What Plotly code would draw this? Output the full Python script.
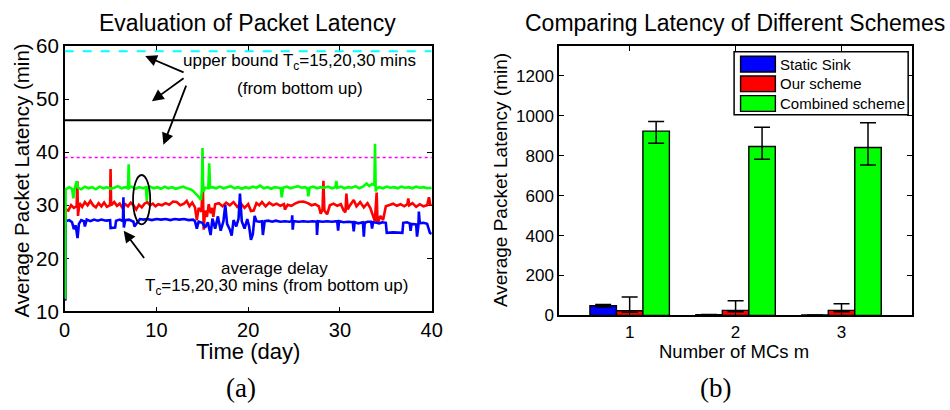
import plotly.graph_objects as go

# ---------------- (a) packet latency over time ----------------
# average delay traces, (day, minutes)
green_trace = [
    (0.00, 12.6), (0.06, 12.6), (0.10, 33.0), (0.5, 33.4), (0.8, 33.1), (0.95, 31.3), (1.1, 33.2), (1.3, 34.5), (1.45, 33.3),
    (1.8, 33.0), (2.2, 33.5), (2.6, 33.2), (3.0, 33.4), (3.4, 33.0), (3.8, 33.5), (4.2, 33.2), (4.6, 33.4), (5.0, 33.1),
    (5.4, 33.3), (5.8, 33.6), (6.2, 33.2), (6.6, 33.4), (6.9, 33.2), (6.97, 37.7), (7.05, 33.3), (7.3, 33.5), (7.7, 33.1),
    (8.1, 33.4), (8.5, 33.2), (8.85, 33.4), (8.95, 30.8), (9.05, 33.3), (9.3, 33.5), (9.7, 33.2), (10.1, 33.4), (10.5, 33.1),
    (10.9, 33.5), (11.3, 33.2), (11.7, 33.4), (12.1, 33.1), (12.5, 33.3), (12.9, 33.5), (13.3, 33.2), (13.7, 33.0),
    (14.0, 32.7), (14.3, 32.2), (14.6, 31.6), (14.85, 31.0), (14.95, 33.0), (15.02, 40.8), (15.1, 32.5), (15.3, 33.3),
    (15.65, 33.2), (15.75, 37.9), (15.85, 33.3), (16.1, 33.4), (16.5, 33.2), (16.9, 33.5), (17.3, 33.2), (17.7, 33.4),
    (18.1, 33.6), (18.5, 33.2), (18.9, 33.4), (19.3, 33.1), (19.7, 33.4), (20.1, 33.2), (20.5, 33.5), (20.9, 33.3),
    (21.3, 33.7), (21.7, 33.2), (22.1, 33.4), (22.5, 33.1), (22.9, 33.4), (23.3, 33.3), (23.55, 33.2), (23.65, 31.5),
    (23.8, 33.3), (24.2, 33.5), (24.6, 33.2), (25.0, 33.4), (25.4, 33.6), (25.8, 33.3), (26.2, 33.4), (26.45, 33.2),
    (26.55, 31.7), (26.7, 33.3), (27.1, 33.5), (27.5, 33.2), (27.9, 33.4), (28.3, 33.3), (28.7, 33.5), (29.1, 33.2),
    (29.5, 33.4), (29.6, 34.6), (29.7, 33.3), (30.1, 33.5), (30.5, 33.2), (30.9, 33.4), (31.3, 33.3), (31.7, 33.6),
    (32.1, 33.2), (32.5, 33.5), (32.9, 34.1), (33.2, 33.6), (33.5, 34.0), (33.75, 33.8), (33.82, 41.6), (33.9, 32.6),
    (34.0, 33.2), (34.3, 33.4), (34.7, 33.2), (35.1, 33.5), (35.5, 33.3), (35.9, 33.4), (36.3, 33.2), (36.7, 33.5),
    (37.1, 33.3), (37.5, 33.4), (37.9, 33.2), (38.3, 33.5), (38.7, 33.3), (39.1, 33.4), (39.5, 33.2), (40.0, 33.3),
]

red_trace = [
    (0.00, 12.3), (0.06, 12.3), (0.10, 29.2), (0.4, 29.0), (0.7, 30.0), (1.0, 29.5), (1.3, 29.8), (1.38, 34.5), (1.45, 28.0),
    (1.6, 30.4), (1.9, 29.7), (2.2, 30.6), (2.5, 30.0), (2.8, 30.8), (3.1, 30.0), (3.4, 29.6), (3.7, 30.4), (4.0, 29.8),
    (4.3, 30.5), (4.6, 29.7), (4.95, 30.0), (5.0, 36.8), (5.06, 30.0), (5.4, 30.6), (5.7, 29.9), (6.0, 30.3), (6.3, 29.5),
    (6.6, 30.2), (6.9, 29.8), (7.2, 30.5), (7.5, 30.0), (7.8, 29.2), (8.1, 30.1), (8.4, 29.6), (8.7, 30.3), (9.0, 30.6),
    (9.3, 30.0), (9.6, 30.3), (9.9, 29.8), (10.2, 30.2), (10.6, 30.0), (11.0, 30.4), (11.4, 30.1), (11.8, 30.7), (12.2, 30.6),
    (12.6, 30.0), (13.0, 30.3), (13.3, 30.8), (13.6, 29.8), (13.9, 30.5), (14.2, 29.6), (14.4, 27.2), (14.6, 29.5),
    (14.9, 28.8), (15.05, 34.3), (15.15, 25.4), (15.3, 29.0), (15.5, 27.8), (15.7, 30.2), (15.9, 28.5), (16.1, 29.5),
    (16.2, 27.8), (16.4, 30.2), (16.8, 30.4), (17.2, 29.8), (17.6, 30.5), (18.0, 30.0), (18.4, 30.6), (18.8, 29.7), (19.2, 30.3),
    (19.6, 29.5), (20.0, 30.2), (20.3, 28.9), (20.6, 29.0), (20.9, 30.4), (21.2, 30.0), (21.5, 30.6), (21.9, 29.8), (22.3, 30.5),
    (22.7, 30.0), (23.1, 30.3), (23.5, 29.9), (23.9, 30.2), (24.0, 29.2), (24.3, 30.1), (24.7, 29.9), (25.1, 30.3),
    (25.5, 30.6), (26.0, 30.7), (26.5, 30.4), (26.9, 30.0), (27.3, 30.2), (27.7, 29.8), (27.9, 28.4), (28.1, 29.2),
    (28.2, 34.6), (28.3, 29.0), (28.6, 28.3), (28.9, 30.0), (29.3, 30.3), (29.7, 29.9), (30.1, 30.2), (30.4, 29.0),
    (30.6, 28.7), (30.7, 32.2), (30.85, 29.2), (31.1, 30.0), (31.5, 31.0), (31.8, 29.8), (32.2, 30.6), (32.6, 29.6),
    (33.0, 30.4), (33.3, 29.5), (33.6, 28.2), (33.8, 27.0), (34.0, 32.4), (34.1, 26.5), (34.4, 28.0), (34.7, 27.2),
    (35.0, 29.8), (35.4, 30.0), (35.8, 30.3), (36.2, 29.9), (36.6, 30.2), (37.0, 29.8), (37.35, 30.2), (37.45, 31.3),
    (37.55, 30.0), (37.9, 30.4), (38.3, 29.7), (38.7, 30.2), (39.1, 29.8), (39.5, 30.0), (39.7, 31.5), (39.85, 30.0), (40.0, 30.3),
]

blue_trace = [
    (0.00, 12.3), (0.06, 12.3), (0.10, 27.0), (0.5, 27.2), (0.8, 26.8), (1.0, 25.5), (1.2, 26.2), (1.4, 23.8), (1.55, 26.5),
    (1.8, 27.2), (2.1, 27.0), (2.2, 26.0), (2.4, 27.3), (2.8, 27.0), (3.2, 27.3), (3.6, 27.1), (4.0, 27.3), (4.5, 27.1),
    (4.95, 27.2), (5.0, 25.7), (5.5, 25.8), (5.6, 27.1), (6.0, 27.3), (6.35, 27.0), (6.4, 31.5), (6.45, 25.8), (6.6, 27.2),
    (7.0, 27.3), (7.5, 26.9), (7.6, 26.0), (7.9, 26.7), (8.2, 27.4), (8.6, 27.3), (9.0, 27.4), (9.5, 27.2), (10.0, 27.4),
    (10.5, 27.3), (11.0, 27.4), (11.5, 27.2), (12.0, 27.4), (12.5, 27.3), (13.0, 27.4), (13.5, 27.2), (14.0, 27.3),
    (14.2, 27.0), (14.4, 25.6), (14.6, 26.9), (15.0, 26.7), (15.3, 25.8), (15.6, 26.8), (15.9, 24.4), (16.1, 27.5),
    (16.4, 25.6), (16.7, 27.9), (17.0, 25.2), (17.3, 27.0), (17.5, 30.0), (17.7, 26.5), (18.0, 25.4), (18.2, 24.3),
    (18.4, 27.2), (18.7, 26.0), (18.95, 27.5), (19.1, 32.2), (19.3, 27.0), (19.6, 25.6), (19.9, 27.4), (20.1, 26.0),
    (20.3, 23.5), (20.5, 24.5), (20.7, 28.0), (20.9, 27.0), (21.2, 26.9), (21.5, 27.0), (21.6, 24.4), (21.8, 27.0),
    (22.2, 27.1), (22.6, 26.9), (23.0, 27.1), (23.5, 26.9), (24.0, 27.0), (24.5, 26.9), (24.75, 27.0), (24.8, 28.1),
    (24.85, 25.4), (24.95, 27.0), (25.5, 26.9), (26.0, 27.0), (26.5, 26.9), (27.0, 27.0), (27.45, 26.9), (27.5, 24.4),
    (27.6, 27.0), (28.1, 26.9), (28.6, 27.0), (29.1, 26.9), (29.7, 27.0), (29.8, 25.2), (29.9, 27.0), (30.4, 26.8),
    (30.9, 26.9), (31.4, 26.8), (31.5, 25.1), (31.6, 26.8), (32.0, 26.6), (32.5, 26.8), (32.6, 24.1), (32.7, 26.7),
    (33.0, 26.9), (33.4, 26.9), (33.5, 25.6), (33.6, 26.8), (34.0, 26.7), (34.3, 26.6), (34.6, 26.8), (35.0, 26.7),
    (35.1, 24.8), (35.8, 24.9), (36.8, 24.8), (36.9, 26.7), (37.3, 26.8), (37.6, 26.6), (37.7, 25.2), (37.8, 26.5),
    (38.3, 26.4), (38.4, 24.1), (38.55, 26.2), (38.6, 28.8), (38.7, 26.6), (39.1, 26.7), (39.5, 26.5), (39.8, 24.8), (40.0, 24.6),
]

# upper bounds for T_c = 15, 20, 30 mins
bound_tc15 = 39.0
bound_tc20 = 46.0
bound_tc30 = 59.0
time_span = [0, 40]
time_ticks = [0, 10, 20, 30, 40]
latency_ticks = [10, 20, 30, 40, 50, 60]

# ---------------- (b) latency of schemes ----------------
num_mcs = [1, 2, 3]
scheme_names = ["Static Sink", "Our scheme", "Combined scheme"]
scheme_colors = ["#0000FF", "#FF0000", "#00FF00"]
static_sink = [48, 4, 2]
static_sink_err = [6, 1, 0.5]
our_scheme = [23, 25, 25]
our_scheme_err_plus = [69, 49, 33]
our_scheme_err_minus = [7, 7, 7]
combined_scheme = [923, 846, 841]
combined_err_plus = [48, 97, 124]
combined_err_minus = [61, 64, 87]
scheme_ticks = [0, 200, 400, 600, 800, 1000, 1200]

W, H = 950, 410
SANS = "Liberation Sans, Arial, Helvetica, sans-serif"
SERIF = "Liberation Serif, Times New Roman, serif"

# pixel -> paper helpers for the page as it is drawn
PLOT_L, PLOT_W = 5.0, 938.0
PLOT_T, PLOT_H = 8.5, 393.5


def px(x):
    return (x - PLOT_L) / PLOT_W


def py(y):
    return 1 - (y - PLOT_T) / PLOT_H


fig = go.Figure()

# traces drawn bottom-up so the Tc=30 curve sits on top
for trace, color in [(red_trace, "#FF0000"), (blue_trace, "#0000FF"), (green_trace, "#00FF00")]:
    fig.add_trace(go.Scatter(
        x=[p[0] for p in trace], y=[p[1] for p in trace], mode="lines",
        line=dict(color=color, width=2.6), showlegend=False, xaxis="x", yaxis="y",
        hoverinfo="skip",
    ))

for value, color, dash, width in [
    (bound_tc30, "#00FFFF", "dash", 2.2),
    (bound_tc20, "#000000", "solid", 2.0),
    (bound_tc15, "#FF00FF", "dot", 1.6),
]:
    fig.add_trace(go.Scatter(
        x=time_span, y=[value, value], mode="lines",
        line=dict(color=color, width=width, dash=dash), showlegend=False,
        xaxis="x", yaxis="y", hoverinfo="skip",
    ))

bar_line = dict(color="black", width=1.4)
err_style = dict(type="data", symmetric=False, color="black", thickness=1.5, width=8)
bar_specs = [
    (static_sink, static_sink_err, static_sink_err),
    (our_scheme, our_scheme_err_plus, our_scheme_err_minus),
    (combined_scheme, combined_err_plus, combined_err_minus),
]
for name, color, (vals, e_plus, e_minus) in zip(scheme_names, scheme_colors, bar_specs):
    fig.add_trace(go.Bar(
        x=num_mcs, y=vals, name=name,
        marker=dict(color=color, line=bar_line),
        error_y=dict(err_style, array=e_plus, arrayminus=e_minus),
        xaxis="x2", yaxis="y2", showlegend=False,
    ))

axis_common = dict(
    showline=True, linecolor="black", linewidth=1.5, mirror="ticks",
    ticks="inside", ticklen=5, tickwidth=1.2, tickcolor="black",
    showgrid=False, zeroline=False,
)

fig.update_layout(
    width=W, height=H,
    margin=dict(l=0, r=0, t=0, b=0),
    paper_bgcolor="white", plot_bgcolor="white",
    font=dict(family=SANS, color="black"),
    barmode="group", bargap=0.25, bargroupgap=0,
    showlegend=False,
    xaxis=dict(axis_common, domain=[px(64), px(433)], range=time_span, tickvals=time_ticks,
               tickfont=dict(size=20), anchor="y", layer="below traces"),
    yaxis=dict(axis_common, domain=[py(313), py(43)], range=[10, 60], tickvals=latency_ticks,
               tickfont=dict(size=20.5), anchor="x", layer="below traces"),
    xaxis2=dict(axis_common, domain=[px(561), px(916)], range=[1 / 3, 11 / 3], tickvals=num_mcs,
                tickfont=dict(size=17), anchor="y2"),
    yaxis2=dict(axis_common, domain=[py(317), py(43)], range=[0, 1350], tickvals=scheme_ticks,
                tickfont=dict(size=17), anchor="x2"),
)

annotations = [
    # titles
    dict(text="Evaluation of Packet Latency", x=px(248), y=py(20), font=dict(size=23)),
    dict(text="Comparing Latency of Different Schemes", x=px(738), y=py(20), font=dict(size=23)),
    # axis titles
    dict(text="Average Packet Latency (min)", x=px(21), y=py(180), textangle=-90, font=dict(size=20.5)),
    dict(text="Time (day)", x=px(248), y=py(354), font=dict(size=22)),
    dict(text="Average Packet Latency (min)", x=px(502), y=py(179), textangle=-90, font=dict(size=19)),
    dict(text="Number of MCs m", x=px(737), y=py(354), font=dict(size=18.5)),
    # panel labels
    dict(text="(a)", x=px(241), y=py(391), font=dict(size=27, family=SERIF)),
    dict(text="(b)", x=px(718), y=py(391), font=dict(size=27, family=SERIF)),
]
for a in annotations:
    a.update(xref="paper", yref="paper", showarrow=False, xanchor="center", yanchor="middle")

notes = [
    dict(text="upper bound T<sub>c</sub>=15,20,30 mins", x=25.6, y=57.0),
    dict(text="(from bottom up)", x=25.6, y=52.0),
    dict(text="average delay", x=22.9, y=18.1),
    dict(text="T<sub>c</sub>=15,20,30 mins (from bottom up)", x=23.1, y=14.6),
]
for a in notes:
    a.update(xref="x", yref="y", showarrow=False, xanchor="center", yanchor="middle",
             font=dict(size=17))
annotations += notes

arrows = [
    ((8.78, 58.1), (13.12, 54.9)),
    ((9.51, 49.6), (13.12, 54.1)),
    ((10.76, 41.4), (13.3, 52.8)),
    ((6.43, 25.2), (8.78, 19.8)),
]
for (hx, hy), (tx, ty) in arrows:
    annotations.append(dict(
        x=hx, y=hy, ax=tx, ay=ty, xref="x", yref="y", axref="x", ayref="y",
        text="", showarrow=True, arrowhead=2, arrowsize=1.3, arrowwidth=1.8, arrowcolor="black",
    ))

# legend box for panel (b): wide colour swatches with labels
legend_box = dict(x0=737, x1=912, y0=49, y1=113)
legend_rows = [61.5, 81.5, 101.5]
shapes = [dict(type="rect", xref="paper", yref="paper",
               x0=px(legend_box["x0"]), x1=px(legend_box["x1"]),
               y0=py(legend_box["y1"]), y1=py(legend_box["y0"]),
               line=dict(color="black", width=1.5), fillcolor="white", layer="above")]
for name, color, row in zip(scheme_names, scheme_colors, legend_rows):
    shapes.append(dict(type="rect", xref="paper", yref="paper",
                       x0=px(743.5), x1=px(778.5), y0=py(row + 8), y1=py(row - 8),
                       line=dict(color="black", width=1.4), fillcolor=color, layer="above"))
    annotations.append(dict(text=name, x=px(781.5), y=py(row), xref="paper", yref="paper",
                            xanchor="left", yanchor="middle", showarrow=False,
                            font=dict(size=15)))

# ellipse around the Tc bump near day 8
shapes.append(dict(type="circle", xref="x", yref="y", x0=7.45, x1=9.32, y0=26.4, y1=35.7,
                   line=dict(color="black", width=1.8)))

fig.update_layout(annotations=annotations, shapes=shapes)

fig.write_html("out.html")
